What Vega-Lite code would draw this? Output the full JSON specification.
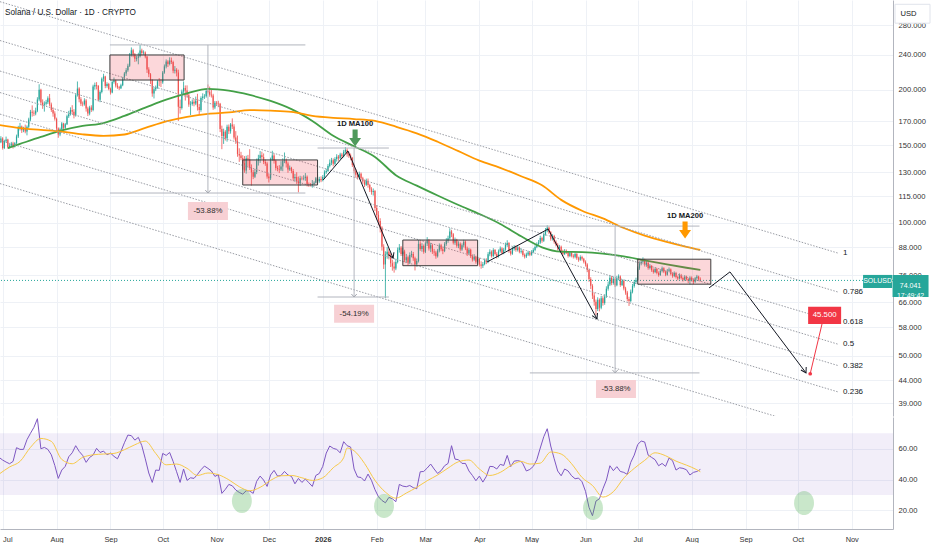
{
"$schema":"https://vega.github.io/schema/vega-lite/v6.json",
"background":"#ffffff",
"padding":{"left":-5,"top":0,"right":0,"bottom":0},
"spacing":0,
"config":{"view":{"stroke":null},"font":"Liberation Sans","axis":{"labelFont":"Liberation Sans"}},
"data":{"values":"d,o,h,l,c,r,m,a,b\n2025-06-29,151.0,153.5,149.8,152.3,54.4,43.6,,166.6\n2025-06-30,152.3,157.1,151.5,155.2,,,,\n2025-07-01,155.2,156.3,146.5,147.8,52.7,,,\n2025-07-02,147.8,154.2,146.9,153.0,,,,\n2025-07-03,153.0,156.8,152.1,154.4,51.4,,,\n2025-07-04,154.4,155.0,147.2,148.5,,,147.7,\n2025-07-05,148.5,150.8,147.4,149.6,50.3,48.2,,\n2025-07-06,149.6,152.5,148.6,151.2,,,,\n2025-07-07,151.2,152.6,147.3,149.0,51.8,,,\n2025-07-08,149.0,152.3,148.1,151.5,,,,\n2025-07-09,151.5,158.4,150.8,156.9,60.7,,,\n2025-07-10,156.9,165.8,155.6,164.0,,,,\n2025-07-11,164.0,168.4,161.9,165.3,59.6,51.8,150.9,163.9\n2025-07-12,165.3,166.1,159.8,162.0,,,,\n2025-07-13,162.0,165.0,160.4,163.2,59.6,,,\n2025-07-14,163.2,166.9,159.5,161.1,,,,\n2025-07-15,161.1,166.2,157.8,165.0,65.9,,,\n2025-07-16,165.0,173.0,163.9,171.3,,,,\n2025-07-17,171.3,180.2,169.8,178.4,70.0,60.9,,\n2025-07-18,178.4,184.5,174.0,177.6,,,,\n2025-07-19,177.6,179.8,174.5,176.9,73.9,,,\n2025-07-20,176.9,182.3,175.2,179.5,,,,\n2025-07-21,179.5,192.5,178.1,190.2,79.5,,,\n2025-07-22,190.2,206.0,188.5,200.1,,,,\n2025-07-23,200.1,201.2,184.8,187.3,60.0,66.7,156.5,162.4\n2025-07-24,187.3,190.4,181.2,185.0,,,,\n2025-07-25,185.0,188.4,178.6,186.2,60.9,,,\n2025-07-26,186.2,189.9,184.3,187.5,,,,\n2025-07-27,187.5,193.4,185.8,191.6,59.6,,,\n2025-07-28,191.6,195.8,183.5,185.4,,,,\n2025-07-29,185.4,187.2,178.3,180.1,56.1,64.8,,\n2025-07-30,180.1,182.5,173.9,176.8,,,,\n2025-07-31,176.8,178.9,170.4,172.0,49.2,,,\n2025-08-01,172.0,173.1,161.2,163.6,,,,\n2025-08-02,163.6,164.5,155.8,158.4,40.8,,,\n2025-08-03,158.4,164.3,157.1,163.0,,,,\n2025-08-04,163.0,169.1,162.2,167.8,46.2,53.1,161.9,160.9\n2025-08-05,167.8,168.5,161.9,164.2,,,,\n2025-08-06,164.2,168.4,162.6,167.1,48.6,,,\n2025-08-07,167.1,175.8,166.5,174.3,,,,\n2025-08-08,174.3,179.3,172.8,176.2,54.8,,,\n2025-08-09,176.2,182.6,175.0,180.1,,,,\n2025-08-10,180.1,184.7,176.3,178.4,57.4,50.3,,\n2025-08-11,178.4,180.9,172.4,175.0,,,,\n2025-08-12,175.0,196.1,174.0,194.6,62.0,,,\n2025-08-13,194.6,209.0,193.2,201.4,,,,\n2025-08-14,201.4,202.8,187.5,190.4,58.3,,,\n2025-08-15,190.4,192.6,183.9,186.1,,,,\n2025-08-16,186.1,188.3,183.5,185.7,55.7,54.4,165.7,158.6\n2025-08-17,185.7,191.5,184.2,189.3,,,,\n2025-08-18,189.3,190.7,178.6,181.5,51.2,,,\n2025-08-19,181.5,183.2,174.5,176.8,,,,\n2025-08-20,176.8,184.1,175.2,182.5,54.4,,,\n2025-08-21,182.5,184.6,178.3,180.0,,,,\n2025-08-22,180.0,205.5,178.9,203.6,55.9,56.1,,\n2025-08-23,203.6,207.8,200.2,205.1,,,,\n2025-08-24,205.1,208.3,200.5,204.0,60.3,,,\n2025-08-25,204.0,205.2,188.3,190.1,,,,\n2025-08-26,190.1,199.4,187.6,197.8,57.6,,,\n2025-08-27,197.8,213.5,196.4,212.0,,,,\n2025-08-28,212.0,217.6,208.9,214.6,58.5,56.6,168.3,157.4\n2025-08-29,214.6,215.3,201.8,204.2,,,,\n2025-08-30,204.2,208.1,202.3,206.3,56.1,,,\n2025-08-31,206.3,207.5,199.6,201.0,,,,\n2025-09-01,201.0,202.4,195.2,197.4,57.2,,,\n2025-09-02,197.4,209.6,196.5,208.5,,,,\n2025-09-03,208.5,213.4,206.7,210.2,55.1,57.0,,\n2025-09-04,210.2,211.0,202.5,204.6,,,,\n2025-09-05,204.6,207.2,201.1,202.8,53.5,,,\n2025-09-06,202.8,204.3,199.8,201.7,,,,\n2025-09-07,201.7,206.6,200.9,205.0,58.3,,,\n2025-09-08,205.0,214.0,203.9,212.3,,,,\n2025-09-09,212.3,219.5,210.6,217.8,63.9,59.4,174.6,158.5\n2025-09-10,217.8,224.1,215.2,221.5,,,,\n2025-09-11,221.5,229.3,219.8,227.0,68.9,,,\n2025-09-12,227.0,242.5,225.4,240.3,,,,\n2025-09-13,240.3,249.6,238.0,246.1,68.5,,,\n2025-09-14,246.1,247.8,237.2,240.6,,,,\n2025-09-15,240.6,242.4,231.5,235.2,65.6,62.6,,\n2025-09-16,235.2,239.0,232.1,236.4,,,,\n2025-09-17,236.4,242.8,228.6,238.5,67.4,,,\n2025-09-18,238.5,253.2,236.9,245.7,,,,\n2025-09-19,245.7,248.0,239.5,242.6,62.0,,,\n2025-09-20,242.6,245.8,240.2,243.1,,,,\n2025-09-21,243.1,244.5,235.8,238.0,53.5,65.0,182.3,164.0\n2025-09-22,238.0,238.6,218.5,222.4,,,,\n2025-09-23,222.4,225.1,213.8,217.0,44.3,,,\n2025-09-24,217.0,218.4,206.2,210.3,,,,\n2025-09-25,210.3,211.5,193.0,196.2,38.2,,,\n2025-09-26,196.2,203.2,191.3,200.8,,,,\n2025-09-27,200.8,204.6,198.8,202.5,46.2,57.0,,\n2025-09-28,202.5,210.5,201.2,209.1,,,,\n2025-09-29,209.1,212.7,203.9,208.7,46.0,,,\n2025-09-30,208.7,211.3,203.0,208.2,,,,\n2025-10-01,208.2,220.8,206.5,219.0,57.0,,,\n2025-10-02,219.0,228.4,217.6,226.1,,,,\n2025-10-03,226.1,234.5,223.8,232.0,55.7,49.6,190.1,169.7\n2025-10-04,232.0,233.6,225.4,228.9,,,,\n2025-10-05,228.9,237.1,227.3,233.2,57.6,,,\n2025-10-06,233.2,236.8,228.9,231.4,,,,\n2025-10-07,231.4,233.0,218.2,221.0,51.8,,,\n2025-10-08,221.0,226.5,217.9,222.3,,,,\n2025-10-09,222.3,224.1,214.6,219.0,45.1,50.1,,\n2025-10-10,219.0,222.3,170.1,183.2,,,,\n2025-10-11,183.2,190.2,176.8,182.0,38.2,,,\n2025-10-12,182.0,200.4,180.5,198.3,,,,\n2025-10-13,198.3,209.0,195.6,202.1,46.9,,,\n2025-10-14,202.1,204.7,189.2,199.4,,,,\n2025-10-15,199.4,204.8,192.1,194.6,39.5,47.3,196.4,173.8\n2025-10-16,194.6,197.2,183.1,185.3,,,,\n2025-10-17,185.3,188.6,175.4,185.9,41.2,,,\n2025-10-18,185.9,190.3,184.2,188.0,,,,\n2025-10-19,188.0,190.8,183.6,186.4,40.8,,,\n2025-10-20,186.4,193.2,184.7,189.1,,,,\n2025-10-21,189.1,196.0,179.6,183.0,43.4,42.7,,\n2025-10-22,183.0,185.9,175.8,180.2,,,,\n2025-10-23,180.2,193.4,178.5,191.8,46.4,,,\n2025-10-24,191.8,196.5,189.3,193.2,,,,\n2025-10-25,193.2,195.6,190.8,193.5,48.8,,,\n2025-10-26,193.5,200.7,192.1,199.0,,,,\n2025-10-27,199.0,205.8,196.4,198.2,47.3,44.3,201.0,176.6\n2025-10-28,198.2,203.5,193.0,195.1,,,,\n2025-10-29,195.1,200.1,192.2,194.3,45.6,,,\n2025-10-30,194.3,196.0,180.3,182.5,,,,\n2025-10-31,182.5,188.8,180.9,187.0,42.1,,,\n2025-11-01,187.0,188.7,184.6,186.4,,,,\n2025-11-02,186.4,189.0,182.8,186.0,43.2,43.2,,\n2025-11-03,186.0,186.9,160.5,163.2,,,,\n2025-11-04,163.2,166.0,146.8,157.3,31.1,,,\n2025-11-05,157.3,163.4,150.9,160.8,,,,\n2025-11-06,160.8,162.1,153.6,155.4,33.7,,,\n2025-11-07,155.4,166.8,152.7,165.1,,,,\n2025-11-08,165.1,167.0,158.9,161.2,36.9,39.9,199.2,177.8\n2025-11-09,161.2,168.3,159.2,167.0,,,,\n2025-11-10,167.0,172.4,163.1,165.3,36.0,,,\n2025-11-11,165.3,167.2,154.4,156.1,,,,\n2025-11-12,156.1,161.3,150.9,153.0,33.3,,,\n2025-11-13,153.0,157.6,141.1,143.2,,,,\n2025-11-14,143.2,147.5,137.4,142.0,31.7,35.4,,\n2025-11-15,142.0,144.8,138.6,140.2,,,,\n2025-11-16,140.2,142.3,131.9,136.5,30.6,,,\n2025-11-17,136.5,141.6,129.8,131.4,,,,\n2025-11-18,131.4,141.9,129.2,140.0,32.8,,,\n2025-11-19,140.0,142.5,134.1,139.2,,,,\n2025-11-20,139.2,146.8,131.7,133.3,32.6,32.8,194.8,180.0\n2025-11-21,133.3,135.6,121.4,130.1,,,,\n2025-11-22,130.1,131.8,125.6,127.2,31.1,,,\n2025-11-23,127.2,132.5,126.3,130.4,,,,\n2025-11-24,130.4,139.8,128.9,138.2,38.9,,,\n2025-11-25,138.2,142.6,134.8,140.1,,,,\n2025-11-26,140.1,145.4,136.7,142.3,42.3,35.0,,\n2025-11-27,142.3,144.9,139.2,141.0,,,,\n2025-11-28,141.0,143.6,135.8,137.4,39.7,,,\n2025-11-29,137.4,139.1,134.6,136.2,,,,\n2025-11-30,136.2,137.5,125.9,127.3,35.6,,,\n2025-12-01,127.3,129.2,123.4,126.1,,,,\n2025-12-02,126.1,140.5,125.0,139.2,43.0,39.5,188.8,179.5\n2025-12-03,139.2,145.6,138.1,142.0,,,,\n2025-12-04,142.0,143.4,136.2,138.3,46.0,,,\n2025-12-05,138.3,139.0,131.4,133.1,,,,\n2025-12-06,133.1,134.6,130.8,132.4,42.3,,,\n2025-12-07,132.4,135.1,129.6,132.0,,,,\n2025-12-08,132.0,137.9,131.0,134.2,42.7,42.5,,\n2025-12-09,134.2,140.0,130.9,138.1,,,,\n2025-12-10,138.1,144.3,136.5,138.4,45.3,,,\n2025-12-11,138.4,139.8,133.4,136.2,,,,\n2025-12-12,136.2,137.6,129.8,132.1,43.0,,,\n2025-12-13,132.1,134.8,131.1,133.2,,,,\n2025-12-14,133.2,133.9,129.5,131.0,42.1,42.7,180.9,178.4\n2025-12-15,131.0,132.4,124.6,126.2,,,,\n2025-12-16,126.2,129.1,124.0,127.0,37.3,,,\n2025-12-17,127.0,130.2,122.5,124.1,,,,\n2025-12-18,124.1,127.3,117.2,122.8,40.8,,,\n2025-12-19,122.8,127.8,121.3,126.1,,,,\n2025-12-20,126.1,127.4,124.9,126.0,38.2,41.2,,\n2025-12-21,126.0,128.1,124.8,126.3,,,,\n2025-12-22,126.3,129.6,124.5,127.2,40.4,,,\n2025-12-23,127.2,128.0,120.9,122.3,,,,\n2025-12-24,122.3,123.4,120.6,122.0,38.0,,,\n2025-12-25,122.0,123.1,120.9,121.8,,,,\n2025-12-26,121.8,125.0,120.1,122.4,35.6,39.5,170.1,174.7\n2025-12-27,122.4,124.2,121.5,123.3,,,,\n2025-12-28,123.3,127.0,122.8,126.1,42.7,,,\n2025-12-29,126.1,128.8,122.9,124.2,,,,\n2025-12-30,124.2,127.1,123.2,125.6,44.0,,,\n2025-12-31,125.6,127.4,123.6,124.8,,,,\n2026-01-01,124.8,128.3,124.1,127.0,48.6,41.2,,\n2026-01-02,127.0,131.5,126.2,130.2,,,,\n2026-01-03,130.2,132.6,129.1,131.0,57.2,,,\n2026-01-04,131.0,135.8,130.4,134.5,,,,\n2026-01-05,134.5,139.2,133.5,136.8,61.8,,,\n2026-01-06,136.8,140.3,135.1,138.6,,,,\n2026-01-07,138.6,139.9,134.2,136.0,60.3,47.7,157.5,172.9\n2026-01-08,136.0,140.8,134.9,139.5,,,,\n2026-01-09,139.5,143.0,137.6,141.2,59.6,,,\n2026-01-10,141.2,142.4,138.2,140.0,,,,\n2026-01-11,140.0,144.1,139.3,142.8,57.4,,,\n2026-01-12,142.8,144.0,139.8,141.5,,,,\n2026-01-13,141.5,146.3,140.6,144.9,64.6,54.2,,\n2026-01-14,144.9,148.4,143.7,146.2,,,,\n2026-01-15,146.2,147.5,141.2,143.0,62.0,60.5,,\n2026-01-16,143.0,144.8,140.3,142.1,,,,\n2026-01-17,142.1,143.5,138.6,140.3,61.1,,,\n2026-01-18,140.3,141.0,133.8,135.2,,,,\n2026-01-19,135.2,136.1,129.4,131.0,46.9,58.7,149.05,171.8\n2026-01-20,131.0,132.3,126.5,128.4,,,,\n2026-01-21,128.4,130.2,125.3,127.0,41.7,,,\n2026-01-22,127.0,130.6,126.0,129.1,,,,\n2026-01-23,129.1,130.0,124.8,126.2,41.4,,,\n2026-01-24,126.2,127.1,122.6,124.0,,,,\n2026-01-25,124.0,125.3,120.5,122.0,39.1,50.5,,\n2026-01-26,122.0,125.9,121.2,124.5,,,,\n2026-01-27,124.5,126.0,120.1,121.8,43.6,,,\n2026-01-28,121.8,122.6,117.4,119.0,,,,\n2026-01-29,119.0,120.4,115.8,117.5,39.5,,,\n2026-01-30,117.5,119.6,115.3,118.0,,,,\n2026-01-31,118.0,118.7,106.2,108.0,33.5,39.5,141.0,170.1\n2026-02-01,108.0,109.6,101.8,104.2,,,,\n2026-02-02,104.2,106.3,98.7,101.0,28.9,,,\n2026-02-03,101.0,102.4,95.1,97.6,,,,\n2026-02-04,97.6,98.2,86.5,88.3,26.5,,,\n2026-02-05,88.3,89.4,78.6,80.5,,,,\n2026-02-06,80.5,86.2,67.5,84.8,25.0,31.9,,\n2026-02-07,84.8,88.1,82.9,86.0,,,,\n2026-02-08,86.0,87.5,82.6,84.2,28.5,,,\n2026-02-09,84.2,85.3,79.4,81.0,,,,\n2026-02-10,81.0,82.5,77.9,79.6,27.6,,,\n2026-02-11,79.6,81.6,77.1,78.8,,,,\n2026-02-12,78.8,82.9,78.1,81.5,25.7,28.0,128.2,165.1\n2026-02-13,81.5,87.9,80.9,86.8,,,,\n2026-02-14,86.8,89.5,85.6,87.9,36.9,,,\n2026-02-15,87.9,88.6,84.1,85.0,,,,\n2026-02-16,85.0,87.8,84.2,86.1,35.8,,,\n2026-02-17,86.1,86.9,81.4,82.3,,,,\n2026-02-18,82.3,85.0,81.2,83.6,35.4,31.3,,\n2026-02-19,83.6,84.3,80.1,81.2,,,,\n2026-02-20,81.2,85.7,80.6,84.5,36.2,,,\n2026-02-21,84.5,86.4,83.5,85.0,,,,\n2026-02-22,85.0,85.9,82.0,83.1,34.8,,,\n2026-02-23,83.1,83.8,78.0,80.4,,,,\n2026-02-24,80.4,83.0,79.6,81.9,34.1,35.0,121.4,159.5\n2026-02-25,81.9,91.4,81.3,89.6,,,,\n2026-02-26,89.6,90.8,86.4,87.2,45.1,,,\n2026-02-27,87.2,89.9,86.0,88.6,,,,\n2026-02-28,88.6,89.3,85.1,86.0,45.3,,,\n2026-03-01,86.0,90.7,85.4,89.8,,,,\n2026-03-02,89.8,92.8,88.6,91.2,47.5,39.3,,\n2026-03-03,91.2,91.9,86.5,87.4,,,,\n2026-03-04,87.4,90.1,85.8,88.9,50.1,,,\n2026-03-05,88.9,89.5,85.0,86.1,,,,\n2026-03-06,86.1,87.3,84.2,85.6,46.9,,,\n2026-03-07,85.6,86.4,82.9,84.0,,,,\n2026-03-08,84.0,87.3,83.4,86.5,44.0,43.0,115.3,152.6\n2026-03-09,86.5,89.8,85.7,88.9,,,,\n2026-03-10,88.9,89.6,86.2,87.1,45.8,,,\n2026-03-11,87.1,88.0,84.9,86.3,,,,\n2026-03-12,86.3,90.4,85.8,89.5,49.0,,,\n2026-03-13,89.5,92.3,88.7,91.0,,,,\n2026-03-14,91.0,93.5,90.1,92.2,50.5,47.5,,\n2026-03-15,92.2,97.2,91.6,95.6,,,,\n2026-03-16,95.6,96.4,92.8,94.2,62.0,,,\n2026-03-17,94.2,94.8,89.3,90.1,,,,\n2026-03-18,90.1,92.6,89.1,91.5,53.3,,,\n2026-03-19,91.5,92.0,87.8,88.7,,,,\n2026-03-20,88.7,90.8,87.6,89.6,52.9,51.6,109.7,145.3\n2026-03-21,89.6,90.3,86.2,87.0,,,,\n2026-03-22,87.0,89.8,86.4,88.9,50.5,,,\n2026-03-23,88.9,91.5,88.0,90.6,,,,\n2026-03-24,90.6,91.2,86.7,87.5,50.5,,,\n2026-03-25,87.5,88.3,84.1,85.2,,,,\n2026-03-26,85.2,87.7,84.6,86.9,45.6,52.7,,\n2026-03-27,86.9,87.4,83.2,84.0,,,,\n2026-03-28,84.0,84.8,81.7,82.6,42.7,,,\n2026-03-29,82.6,84.9,82.0,83.8,,,,\n2026-03-30,83.8,84.2,80.8,81.6,39.3,,,\n2026-03-31,81.6,83.7,80.9,82.9,,,,\n2026-04-01,82.9,83.3,79.6,80.5,42.3,46.9,104.7,138.3\n2026-04-02,80.5,81.8,78.7,79.9,,,,\n2026-04-03,79.9,81.5,79.0,80.6,38.4,,,\n2026-04-04,80.6,83.0,80.1,82.2,,,,\n2026-04-05,82.2,83.1,80.6,81.5,42.1,,,\n2026-04-06,81.5,85.8,81.0,84.9,,,,\n2026-04-07,84.9,87.1,84.0,86.0,48.6,42.7,,\n2026-04-08,86.0,86.6,83.4,84.1,,,,\n2026-04-09,84.1,87.6,83.5,86.8,48.4,,,\n2026-04-10,86.8,87.2,84.3,85.0,,,,\n2026-04-11,85.0,85.8,83.0,83.9,46.9,,,\n2026-04-12,83.9,87.0,83.4,86.2,,,,\n2026-04-13,86.2,88.4,85.6,87.5,49.9,44.7,99.4,133.2\n2026-04-14,87.5,88.0,84.8,85.4,,,,\n2026-04-15,85.4,87.7,84.9,86.9,49.2,,,\n2026-04-16,86.9,90.2,86.4,89.1,,,,\n2026-04-17,89.1,91.3,88.2,90.0,55.7,,,\n2026-04-18,90.0,90.4,85.5,86.2,,,,\n2026-04-19,86.2,87.0,84.3,85.1,48.4,49.0,,\n2026-04-20,85.1,88.1,84.6,87.3,,,,\n2026-04-21,87.3,89.0,86.5,88.2,52.0,,,\n2026-04-22,88.2,88.9,86.0,86.8,,,,\n2026-04-23,86.8,88.7,86.1,87.9,52.3,,,\n2026-04-24,87.9,88.4,85.3,86.0,,,,\n2026-04-25,86.0,87.5,85.2,86.3,51.8,51.8,93.2,127.5\n2026-04-26,86.3,86.9,83.8,84.5,50.3,,,\n2026-04-27,84.5,85.2,83.0,83.9,,,,\n2026-04-28,83.9,85.6,83.2,84.8,45.6,,,\n2026-04-29,84.8,86.4,84.1,85.6,,,,\n2026-04-30,85.6,86.2,84.0,84.7,46.6,50.1,,\n2026-05-01,84.7,86.7,84.2,85.9,,,,\n2026-05-02,85.9,87.6,85.3,86.8,48.6,,,\n2026-05-03,86.8,88.9,86.2,88.1,,,,\n2026-05-04,88.1,90.3,87.6,89.5,52.9,,,\n2026-05-05,89.5,91.4,88.7,90.2,,,,\n2026-05-06,90.2,93.5,89.6,92.4,60.5,50.7,,\n2026-05-07,92.4,93.0,90.1,91.0,,,88.0,121.6\n2026-05-08,91.0,95.2,90.5,94.3,67.8,,,\n2026-05-09,94.3,97.3,93.5,96.1,,,,\n2026-05-10,96.1,98.7,95.2,97.5,73.0,,,\n2026-05-11,97.5,98.0,94.3,95.2,,,,\n2026-05-12,95.2,95.8,91.1,92.0,61.8,57.9,,\n2026-05-13,92.0,94.2,91.2,93.4,,,,\n2026-05-14,93.4,93.9,89.7,90.6,53.5,,,\n2026-05-15,90.6,91.3,88.4,89.2,,,,\n2026-05-16,89.2,89.9,86.6,87.5,45.6,,,\n2026-05-17,87.5,89.1,86.9,88.3,,,,\n2026-05-18,88.3,88.8,85.4,86.2,42.5,56.6,86.0,112.7\n2026-05-19,86.2,86.9,84.2,85.0,,,,\n2026-05-20,85.0,87.2,84.5,86.4,46.9,,,\n2026-05-21,86.4,87.0,85.0,85.8,,,,\n2026-05-22,85.8,86.3,83.4,84.1,45.6,,,\n2026-05-23,84.1,86.2,83.6,85.5,,,,\n2026-05-24,85.5,85.9,83.5,84.2,42.5,50.3,,\n2026-05-25,84.2,84.9,83.0,83.8,,,,\n2026-05-26,83.8,85.7,83.1,85.0,40.6,,,\n2026-05-27,85.0,85.4,82.4,83.1,,,,\n2026-05-28,83.1,83.8,81.6,82.5,41.0,,,\n2026-05-29,82.5,84.4,82.0,83.7,,,,\n2026-05-30,83.7,84.2,82.1,82.9,38.6,41.4,85.8,106.5\n2026-05-31,82.9,83.3,80.9,81.6,,,,\n2026-06-01,81.6,82.2,79.6,80.5,32.4,,,\n2026-06-02,80.5,81.0,77.3,78.2,,,,\n2026-06-03,78.2,78.8,73.5,74.6,22.0,,,\n2026-06-04,74.6,75.3,70.8,72.0,,,,\n2026-06-05,72.0,72.6,67.2,68.4,16.6,36.2,,\n2026-06-06,68.4,69.5,64.9,66.2,,,,\n2026-06-07,66.2,67.0,61.8,63.8,26.1,,,\n2026-06-08,63.8,67.8,63.1,66.9,,,,\n2026-06-09,66.9,67.4,63.0,64.2,27.6,,,\n2026-06-10,64.2,68.3,63.7,67.5,,,,\n2026-06-11,67.5,68.2,64.9,65.8,34.1,28.7,85.1,102.3\n2026-06-12,65.8,68.9,65.2,68.1,,,,\n2026-06-13,68.1,71.8,67.6,70.9,39.7,,,\n2026-06-14,70.9,73.6,70.2,72.5,,,,\n2026-06-15,72.5,76.2,71.9,75.1,49.0,,,\n2026-06-16,75.1,75.8,72.2,73.0,,,,\n2026-06-17,73.0,75.5,72.4,74.6,45.8,32.2,,\n2026-06-18,74.6,75.0,71.5,72.2,,,,\n2026-06-19,72.2,75.8,71.8,74.9,48.4,,,\n2026-06-20,74.9,76.4,74.1,75.6,,,,\n2026-06-21,75.6,76.0,71.6,72.3,45.3,,,\n2026-06-22,72.3,74.5,71.9,73.8,,,,\n2026-06-23,73.8,74.2,70.3,71.0,44.7,41.0,83.9,97.3\n2026-06-24,71.0,71.6,68.7,69.5,,,,\n2026-06-25,69.5,70.1,66.4,67.2,43.4,,,\n2026-06-26,67.2,68.0,64.8,66.5,,,,\n2026-06-27,66.5,70.6,66.0,69.8,51.2,,,\n2026-06-28,69.8,72.7,69.2,71.9,,,,\n2026-06-29,71.9,74.2,71.3,73.4,55.9,47.3,,\n2026-06-30,73.4,75.1,72.8,74.2,,,,\n2026-07-01,74.2,79.6,73.8,78.8,62.8,,,\n2026-07-02,78.8,81.8,78.2,80.9,,,,\n2026-07-03,80.9,82.7,80.1,81.6,65.0,,,\n2026-07-04,81.6,83.5,80.8,82.4,,,,\n2026-07-05,82.4,82.9,79.6,80.3,64.4,52.5,82.2,93.5\n2026-07-06,80.3,81.9,79.5,81.2,,,,\n2026-07-07,81.2,81.6,78.3,79.0,55.9,,,\n2026-07-08,79.0,80.6,78.4,79.8,,,,\n2026-07-09,79.8,80.2,77.4,78.1,54.4,,,\n2026-07-10,78.1,78.8,76.7,77.4,,,,\n2026-07-11,77.4,79.3,76.9,78.6,52.9,57.4,,\n2026-07-12,78.6,79.0,76.4,77.0,,,,\n2026-07-13,77.0,77.6,75.5,76.2,49.0,,,\n2026-07-14,76.2,78.5,75.8,77.8,,,,\n2026-07-15,77.8,79.6,77.2,78.9,50.5,,,\n2026-07-16,78.9,79.3,76.9,77.5,,,,\n2026-07-17,77.5,78.0,75.7,76.3,48.6,55.5,80.6,90.6\n2026-07-18,76.3,78.6,75.9,77.9,,,,\n2026-07-19,77.9,79.2,77.3,78.4,54.0,,,\n2026-07-20,78.4,78.8,76.0,76.6,,,,\n2026-07-21,76.6,77.2,75.1,75.8,52.3,,,\n2026-07-22,75.8,77.6,75.3,77.0,,,,\n2026-07-23,77.0,77.4,74.8,75.4,46.2,52.0,,\n2026-07-24,75.4,75.9,74.1,74.8,,,,\n2026-07-25,74.8,76.8,74.4,76.2,47.7,,,\n2026-07-26,76.2,76.6,74.4,75.0,,,,\n2026-07-27,75.0,75.5,73.6,74.3,47.3,,,\n2026-07-28,74.3,76.1,73.9,75.5,,,,\n2026-07-29,75.5,75.9,74.0,74.6,46.4,49.4,79.1,88.2\n2026-07-30,74.6,75.0,73.0,73.9,,,,\n2026-07-31,73.9,75.7,72.5,75.1,43.0,,,\n2026-08-01,75.1,75.6,73.6,74.2,,,,\n2026-08-02,74.2,74.8,72.6,73.5,44.7,,,\n2026-08-03,73.5,75.4,73.1,74.9,,,,\n2026-08-04,74.9,76.2,74.3,75.6,45.3,46.4,,\n2026-08-05,75.6,75.9,73.9,74.4,,,,\n2026-08-06,74.4,75.2,73.6,74.041,46.6,45.1,78.2,86.8","format":{"type":"csv","parse":{"d":"date","o":"number","h":"number","l":"number","c":"number","r":"number","m":"number","a":"number","b":"number"}}},
"vconcat":[
{
"width":893,"height":416,
"layer":[
{"mark":{"type":"rule","strokeWidth":0.8},
 "encoding":{
  "x":{"field":"d","type":"temporal","scale":{"type":"utc","nice":false,"domain":[{"year":2025,"month":6,"date":29,"hours":12,"utc":true},{"year":2026,"month":11,"date":24,"hours":17,"utc":true}]},
       "axis":{"grid":true,"gridColor":"#eef1f6","labels":false,"ticks":false,"domain":false,"title":null,
        "values":[{"year":2025,"month":7,"date":1,"utc":true},{"year":2025,"month":8,"date":1,"utc":true},{"year":2025,"month":9,"date":1,"utc":true},{"year":2025,"month":10,"date":1,"utc":true},{"year":2025,"month":11,"date":1,"utc":true},{"year":2025,"month":12,"date":1,"utc":true},{"year":2026,"month":1,"date":1,"utc":true},{"year":2026,"month":2,"date":1,"utc":true},{"year":2026,"month":3,"date":1,"utc":true},{"year":2026,"month":4,"date":1,"utc":true},{"year":2026,"month":5,"date":1,"utc":true},{"year":2026,"month":6,"date":1,"utc":true},{"year":2026,"month":7,"date":1,"utc":true},{"year":2026,"month":8,"date":1,"utc":true},{"year":2026,"month":9,"date":1,"utc":true},{"year":2026,"month":10,"date":1,"utc":true},{"year":2026,"month":11,"date":1,"utc":true}]}},
  "y":{"field":"l","type":"quantitative","scale":{"type":"log","domain":[36.5,319.7],"nice":false,"zero":false},
       "axis":{"orient":"right","values":[39,44,50,58,66,76,88,100,115,130,150,170,200,240,280],"format":".3f","grid":true,"gridColor":"#eef1f6","ticks":false,"domainColor":"#b2b5be","labelFontSize":7.6,"labelColor":"#333333","labelPadding":5,"title":null}},
  "y2":{"field":"h"},
  "color":{"condition":{"test":"datum.c >= datum.o","value":"#26a69a"},"value":"#ef5350"}}},
{"mark":{"type":"rule","strokeWidth":1.2},
 "encoding":{"x":{"field":"d","type":"temporal"},"y":{"field":"o","type":"quantitative"},"y2":{"field":"c"},
  "color":{"condition":{"test":"datum.c >= datum.o","value":"#26a69a"},"value":"#ef5350"}}},
{"transform":[{"filter":"isValid(datum.a)"}],"mark":{"type":"line","color":"#43a047","strokeWidth":1.8,"interpolate":"monotone"},
 "encoding":{"x":{"field":"d","type":"temporal"},"y":{"field":"a","type":"quantitative"}}},
{"transform":[{"filter":"isValid(datum.b)"}],"mark":{"type":"line","color":"#ff9800","strokeWidth":1.8,"interpolate":"monotone"},
 "encoding":{"x":{"field":"d","type":"temporal"},"y":{"field":"b","type":"quantitative"}}},
{"data":{"values":[
  {"k":"1","t":"2025-06-29T12:00:00Z","p":316.9},{"k":"1","t":"2026-10-24T00:00:00Z","p":85.4},
  {"k":"0.786","t":"2025-06-29T12:00:00Z","p":258.8},{"k":"0.786","t":"2026-10-24T00:00:00Z","p":69.7},
  {"k":"0.618","t":"2025-06-29T12:00:00Z","p":220.7},{"k":"0.618","t":"2026-10-24T00:00:00Z","p":59.45},
  {"k":"0.5","t":"2025-06-29T12:00:00Z","p":197.3},{"k":"0.5","t":"2026-10-24T00:00:00Z","p":53.1},
  {"k":"0.382","t":"2025-06-29T12:00:00Z","p":176.3},{"k":"0.382","t":"2026-10-24T00:00:00Z","p":47.5},
  {"k":"0.236","t":"2025-06-29T12:00:00Z","p":153.6},{"k":"0.236","t":"2026-10-24T00:00:00Z","p":41.4},
  {"k":"0","t":"2025-06-29T12:00:00Z","p":122.7},{"k":"0","t":"2026-10-24T00:00:00Z","p":33.06}]},
 "mark":{"type":"line","color":"#9a9da5","strokeWidth":1,"strokeDash":[1.5,1.5],"clip":true},
 "encoding":{"x":{"field":"t","type":"temporal"},"y":{"field":"p","type":"quantitative"},"detail":{"field":"k"}}},
{"data":{"values":[{}]},"mark":{"type":"rule","color":"#26a69a","strokeWidth":1,"strokeDash":[1,2]},
 "encoding":{"y":{"datum":74.041,"type":"quantitative"}}},
{"data":{"values":[
  {"t1":"2025-08-31T16:00:00Z","t2":"2025-10-13T07:00:00Z","p1":210.6,"p2":240.0},
  {"t1":"2025-11-16T00:00:00Z","t2":"2025-12-29T00:00:00Z","p1":121.8,"p2":138.8},
  {"t1":"2026-02-16T00:00:00Z","t2":"2026-03-31T00:00:00Z","p1":79.95,"p2":91.4},
  {"t1":"2026-07-01T00:00:00Z","t2":"2026-08-12T00:00:00Z","p1":72.6,"p2":82.7}]},
 "mark":{"type":"rect","fill":"#f23645","fillOpacity":0.2,"stroke":"#3c3c3c","strokeWidth":1,"strokeOpacity":1},
 "encoding":{"x":{"field":"t1","type":"temporal"},"x2":{"field":"t2"},"y":{"field":"p1","type":"quantitative"},"y2":{"field":"p2"}}},
{"data":{"values":[
  {"t1":"2025-08-31T16:00:00Z","t2":"2025-12-22T00:00:00Z","p1":252.9,"p2":252.9},
  {"t1":"2025-08-31T16:00:00Z","t2":"2025-12-22T00:00:00Z","p1":116.8,"p2":116.8},
  {"t1":"2025-10-27T00:00:00Z","t2":"2025-10-27T00:00:00Z","p1":252.9,"p2":116.8},
  {"t1":"2025-12-29T00:00:00Z","t2":"2026-02-08T00:00:00Z","p1":147.7,"p2":147.7},
  {"t1":"2025-12-29T00:00:00Z","t2":"2026-02-08T00:00:00Z","p1":67.9,"p2":67.9},
  {"t1":"2026-01-19T00:00:00Z","t2":"2026-01-19T00:00:00Z","p1":147.7,"p2":67.9},
  {"t1":"2026-04-30T00:00:00Z","t2":"2026-08-05T12:00:00Z","p1":98.3,"p2":98.3},
  {"t1":"2026-04-30T00:00:00Z","t2":"2026-08-05T12:00:00Z","p1":45.7,"p2":45.7},
  {"t1":"2026-06-18T00:00:00Z","t2":"2026-06-18T00:00:00Z","p1":98.3,"p2":45.7}]},
 "mark":{"type":"rule","color":"#b2b5be","strokeWidth":1},
 "encoding":{"x":{"field":"t1","type":"temporal"},"x2":{"field":"t2"},"y":{"field":"p1","type":"quantitative"},"y2":{"field":"p2"}}},
{"data":{"values":[{"t":"2025-10-27T00:00:00Z","p":116.8},{"t":"2026-01-19T00:00:00Z","p":67.9},{"t":"2026-06-18T00:00:00Z","p":45.7}]},
 "mark":{"type":"point","shape":"M-0.9,-1L0,0L0.9,-1","size":36,"filled":false,"color":"#a5a8b0","strokeWidth":1,"opacity":1},
 "encoding":{"x":{"field":"t","type":"temporal"},"y":{"field":"p","type":"quantitative"}}},
{"data":{"values":[{"t":"2025-10-27T00:00:00Z","p":106.4,"txt":"-53.88%"},{"t":"2026-01-19T00:00:00Z","p":62.2,"txt":"-54.19%"},{"t":"2026-06-18T12:00:00Z","p":42.0,"txt":"-53.88%"}]},
 "layer":[
  {"mark":{"type":"point","shape":"M-1,-0.45L1,-0.45L1,0.45L-1,0.45Z","size":1600,"filled":true,"color":"#f7d0d4","strokeWidth":0,"opacity":1},
   "encoding":{"x":{"field":"t","type":"temporal"},"y":{"field":"p","type":"quantitative"}}},
  {"mark":{"type":"text","fontSize":7.8,"color":"#2f2f2f","align":"center","baseline":"middle"},
   "encoding":{"x":{"field":"t","type":"temporal"},"y":{"field":"p","type":"quantitative"},"text":{"field":"txt"}}}]},
{"data":{"values":[
  {"s":"a","o":1,"t":"2026-01-01T05:00:00Z","p":125.0},{"s":"a","o":2,"t":"2026-01-15T12:00:00Z","p":145.4},{"s":"a","o":3,"t":"2026-02-10T10:00:00Z","p":83.2},
  {"s":"b","o":1,"t":"2026-04-05T10:00:00Z","p":81.5},{"s":"b","o":2,"t":"2026-05-10T12:00:00Z","p":96.8},{"s":"b","o":3,"t":"2026-06-07T14:00:00Z","p":60.6},
  {"s":"c","o":1,"t":"2026-08-11T00:00:00Z","p":71.2},{"s":"c","o":2,"t":"2026-08-23T00:00:00Z","p":77.4},{"s":"c","o":3,"t":"2026-10-05T17:00:00Z","p":45.7}]},
 "layer":[
  {"mark":{"type":"line","color":"#131722","strokeWidth":1},
   "encoding":{"x":{"field":"t","type":"temporal"},"y":{"field":"p","type":"quantitative"},"detail":{"field":"s"},"order":{"field":"o"}}},
  {"transform":[{"filter":"datum.o == 3"}],
   "mark":{"type":"point","shape":"M-1,-0.6L0,0L-1,0.6","size":100,"filled":false,"color":"#131722","strokeWidth":1,"opacity":1},
   "encoding":{"x":{"field":"t","type":"temporal"},"y":{"field":"p","type":"quantitative"},
    "angle":{"field":"s","type":"nominal","scale":{"domain":["a","b","c"],"range":[67,61,53]},"legend":null}}}]},
{"data":{"values":[{"t":"2026-10-08T03:00:00Z","p":45.5},{"t":"2026-10-14T22:00:00Z","p":59.0}]},
 "mark":{"type":"line","color":"#f23645","strokeWidth":1},
 "encoding":{"x":{"field":"t","type":"temporal"},"y":{"field":"p","type":"quantitative"}}},
{"data":{"values":[{"t":"2026-10-08T03:00:00Z","p":45.5}]},
 "mark":{"type":"point","shape":"circle","size":14,"filled":true,"color":"#f23645","opacity":1},
 "encoding":{"x":{"field":"t","type":"temporal"},"y":{"field":"p","type":"quantitative"}}},
{"data":{"values":[{"t":"2026-10-16T10:00:00Z","p":61.7,"txt":"45.500"}]},
 "layer":[
  {"mark":{"type":"point","shape":"M-1,-0.52L1,-0.52L1,0.52L-1,0.52Z","size":1089,"filled":true,"color":"#f23645","strokeWidth":0,"opacity":1},
   "encoding":{"x":{"field":"t","type":"temporal"},"y":{"field":"p","type":"quantitative"}}},
  {"mark":{"type":"text","fontSize":7.8,"color":"#ffffff","align":"center","baseline":"middle"},
   "encoding":{"x":{"field":"t","type":"temporal"},"y":{"field":"p","type":"quantitative"},"text":{"field":"txt"}}}]},
{"data":{"values":[{"t":"2026-01-19T14:00:00Z","p":167.4,"txt":"1D MA100"},{"t":"2026-07-28T05:00:00Z","p":103.6,"txt":"1D MA200"}]},
 "mark":{"type":"text","fontSize":7.6,"fontWeight":"bold","color":"#131722","align":"center","baseline":"middle"},
 "encoding":{"x":{"field":"t","type":"temporal"},"y":{"field":"p","type":"quantitative"},"text":{"field":"txt"}}},
{"data":{"values":[{"t":"2026-01-19T14:00:00Z","p":155.7}]},
 "mark":{"type":"point","shape":"M-0.3,-1L0.3,-1L0.3,0L0.7,0L0,1L-0.7,0L-0.3,0Z","size":289,"filled":true,"color":"#4f9a5c","strokeWidth":0,"opacity":1},
 "encoding":{"x":{"field":"t","type":"temporal"},"y":{"field":"p","type":"quantitative"}}},
{"data":{"values":[{"t":"2026-07-28T05:00:00Z","p":96.3}]},
 "mark":{"type":"point","shape":"M-0.3,-1L0.3,-1L0.3,0L0.7,0L0,1L-0.7,0L-0.3,0Z","size":289,"filled":true,"color":"#ff9800","strokeWidth":0,"opacity":1},
 "encoding":{"x":{"field":"t","type":"temporal"},"y":{"field":"p","type":"quantitative"}}},
{"data":{"values":[{"t":"2026-10-27T00:00:00Z","p":85.4,"txt":"1"},{"t":"2026-10-27T00:00:00Z","p":69.7,"txt":"0.786"},{"t":"2026-10-27T00:00:00Z","p":59.45,"txt":"0.618"},{"t":"2026-10-27T00:00:00Z","p":53.1,"txt":"0.5"},{"t":"2026-10-27T00:00:00Z","p":47.5,"txt":"0.382"},{"t":"2026-10-27T00:00:00Z","p":41.4,"txt":"0.236"}]},
 "mark":{"type":"text","fontSize":8,"color":"#131722","align":"left","baseline":"middle"},
 "encoding":{"x":{"field":"t","type":"temporal"},"y":{"field":"p","type":"quantitative"},"text":{"field":"txt"}}},
{"data":{"values":[{"t":"2025-07-02T10:00:00Z","p":299.5,"txt":"Solana / U.S. Dollar · 1D · CRYPTO"}]},
 "mark":{"type":"text","fontSize":8.2,"color":"#131722","align":"left","baseline":"middle"},
 "encoding":{"x":{"field":"t","type":"temporal"},"y":{"field":"p","type":"quantitative"},"text":{"field":"txt"}}},
{"data":{"values":[{"t":"2026-11-15T20:00:00Z","p":73.64,"txt":"SOLUSD"}]},
 "layer":[
  {"mark":{"type":"point","shape":"M-1,-0.45L1,-0.45L1,0.45L-1,0.45Z","size":841,"filled":true,"color":"#26a69a","strokeWidth":0,"opacity":1},
   "encoding":{"x":{"field":"t","type":"temporal"},"y":{"field":"p","type":"quantitative"}}},
  {"mark":{"type":"text","fontSize":7,"color":"#ffffff","align":"center","baseline":"middle"},
   "encoding":{"x":{"field":"t","type":"temporal"},"y":{"field":"p","type":"quantitative"},"text":{"field":"txt"}}}]},
{"data":{"values":[{"t":"2026-12-04T19:00:00Z","p":71.9,"txt":"74.041\n17:49:42"}]},
 "layer":[
  {"mark":{"type":"point","shape":"M-1,-0.61L1,-0.61L1,0.61L-1,0.61Z","size":1296,"filled":true,"color":"#26a69a","strokeWidth":0,"opacity":1},
   "encoding":{"x":{"field":"t","type":"temporal"},"y":{"field":"p","type":"quantitative"}}},
  {"mark":{"type":"text","fontSize":7,"color":"#ffffff","align":"center","baseline":"middle","lineBreak":"\n","lineHeight":10},
   "encoding":{"x":{"field":"t","type":"temporal"},"y":{"field":"p","type":"quantitative"},"text":{"field":"txt"}}}]},
{"data":{"values":[{"t":"2026-12-05T22:00:00Z","p":297.6,"txt":"USD"}]},
 "layer":[
  {"mark":{"type":"point","shape":"M-1,-0.54L1,-0.54L1,0.54L-1,0.54Z","size":1225,"filled":false,"fill":"#ffffff","stroke":"#e0e3eb","strokeWidth":1,"opacity":1},
   "encoding":{"x":{"field":"t","type":"temporal"},"y":{"field":"p","type":"quantitative"}}},
  {"mark":{"type":"text","fontSize":7.6,"color":"#131722","align":"center","baseline":"middle","dx":-4},
   "encoding":{"x":{"field":"t","type":"temporal"},"y":{"field":"p","type":"quantitative"},"text":{"field":"txt"}}}]}
]
},
{
"width":893,"height":112,
"layer":[
{"data":{"values":[{}]},"mark":{"type":"rect","color":"#7e57c2","opacity":0.1},
 "encoding":{
  "x":{"datum":{"year":2025,"month":6,"date":29,"hours":12,"utc":true},"type":"temporal","scale":{"type":"utc","nice":false,"domain":[{"year":2025,"month":6,"date":29,"hours":12,"utc":true},{"year":2026,"month":11,"date":24,"hours":17,"utc":true}]},
       "axis":{"orient":"bottom","grid":true,"gridColor":"#eef1f6","ticks":false,"domainColor":"#b2b5be","labelFontSize":7.4,"labelColor":"#333333","labelPadding":6,"title":null,"labelFlush":5,
        "labelExpr":"utcmonth(datum.value) == 0 ? utcFormat(datum.value, '%Y') : utcFormat(datum.value, '%b')",
        "labelFontWeight":{"condition":{"test":"utcmonth(datum.value) == 0","value":"bold"},"value":"normal"},
        "values":[{"year":2025,"month":7,"date":1,"utc":true},{"year":2025,"month":8,"date":1,"utc":true},{"year":2025,"month":9,"date":1,"utc":true},{"year":2025,"month":10,"date":1,"utc":true},{"year":2025,"month":11,"date":1,"utc":true},{"year":2025,"month":12,"date":1,"utc":true},{"year":2026,"month":1,"date":1,"utc":true},{"year":2026,"month":2,"date":1,"utc":true},{"year":2026,"month":3,"date":1,"utc":true},{"year":2026,"month":4,"date":1,"utc":true},{"year":2026,"month":5,"date":1,"utc":true},{"year":2026,"month":6,"date":1,"utc":true},{"year":2026,"month":7,"date":1,"utc":true},{"year":2026,"month":8,"date":1,"utc":true},{"year":2026,"month":9,"date":1,"utc":true},{"year":2026,"month":10,"date":1,"utc":true},{"year":2026,"month":11,"date":1,"utc":true}]}},
  "x2":{"datum":{"year":2026,"month":11,"date":24,"hours":17,"utc":true}},
  "y":{"datum":30,"type":"quantitative","scale":{"domain":[8,80.6],"nice":false,"zero":false},
       "axis":{"orient":"right","values":[20,40,60],"format":".2f","grid":true,"gridColor":"#eef1f6","ticks":false,"domainColor":"#b2b5be","labelFontSize":7.6,"labelColor":"#333333","labelPadding":5,"title":null}},
  "y2":{"datum":70}}},
{"transform":[{"filter":"isValid(datum.r)"}],"mark":{"type":"line","color":"#7e57c2","strokeWidth":1},
 "encoding":{"x":{"field":"d","type":"temporal"},"y":{"field":"r","type":"quantitative"}}},
{"transform":[{"filter":"isValid(datum.m)"}],"mark":{"type":"line","color":"#f7c948","strokeWidth":1,"interpolate":"monotone"},
 "encoding":{"x":{"field":"d","type":"temporal"},"y":{"field":"m","type":"quantitative"}}},
{"data":{"values":[{"t":"2025-11-15T12:00:00Z","v":26.1},{"t":"2026-02-05T05:00:00Z","v":22.9},{"t":"2026-06-05T07:00:00Z","v":21.6},{"t":"2026-10-04T14:00:00Z","v":24.8}]},
 "mark":{"type":"point","shape":"M0,-1A0.83,1 0 1,1 0,1A0.83,1 0 1,1 0,-1Z","size":576,"filled":true,"color":"#4caf50","opacity":0.3,"strokeWidth":0},
 "encoding":{"x":{"field":"t","type":"temporal"},"y":{"field":"v","type":"quantitative"}}}
]
}
]
}
